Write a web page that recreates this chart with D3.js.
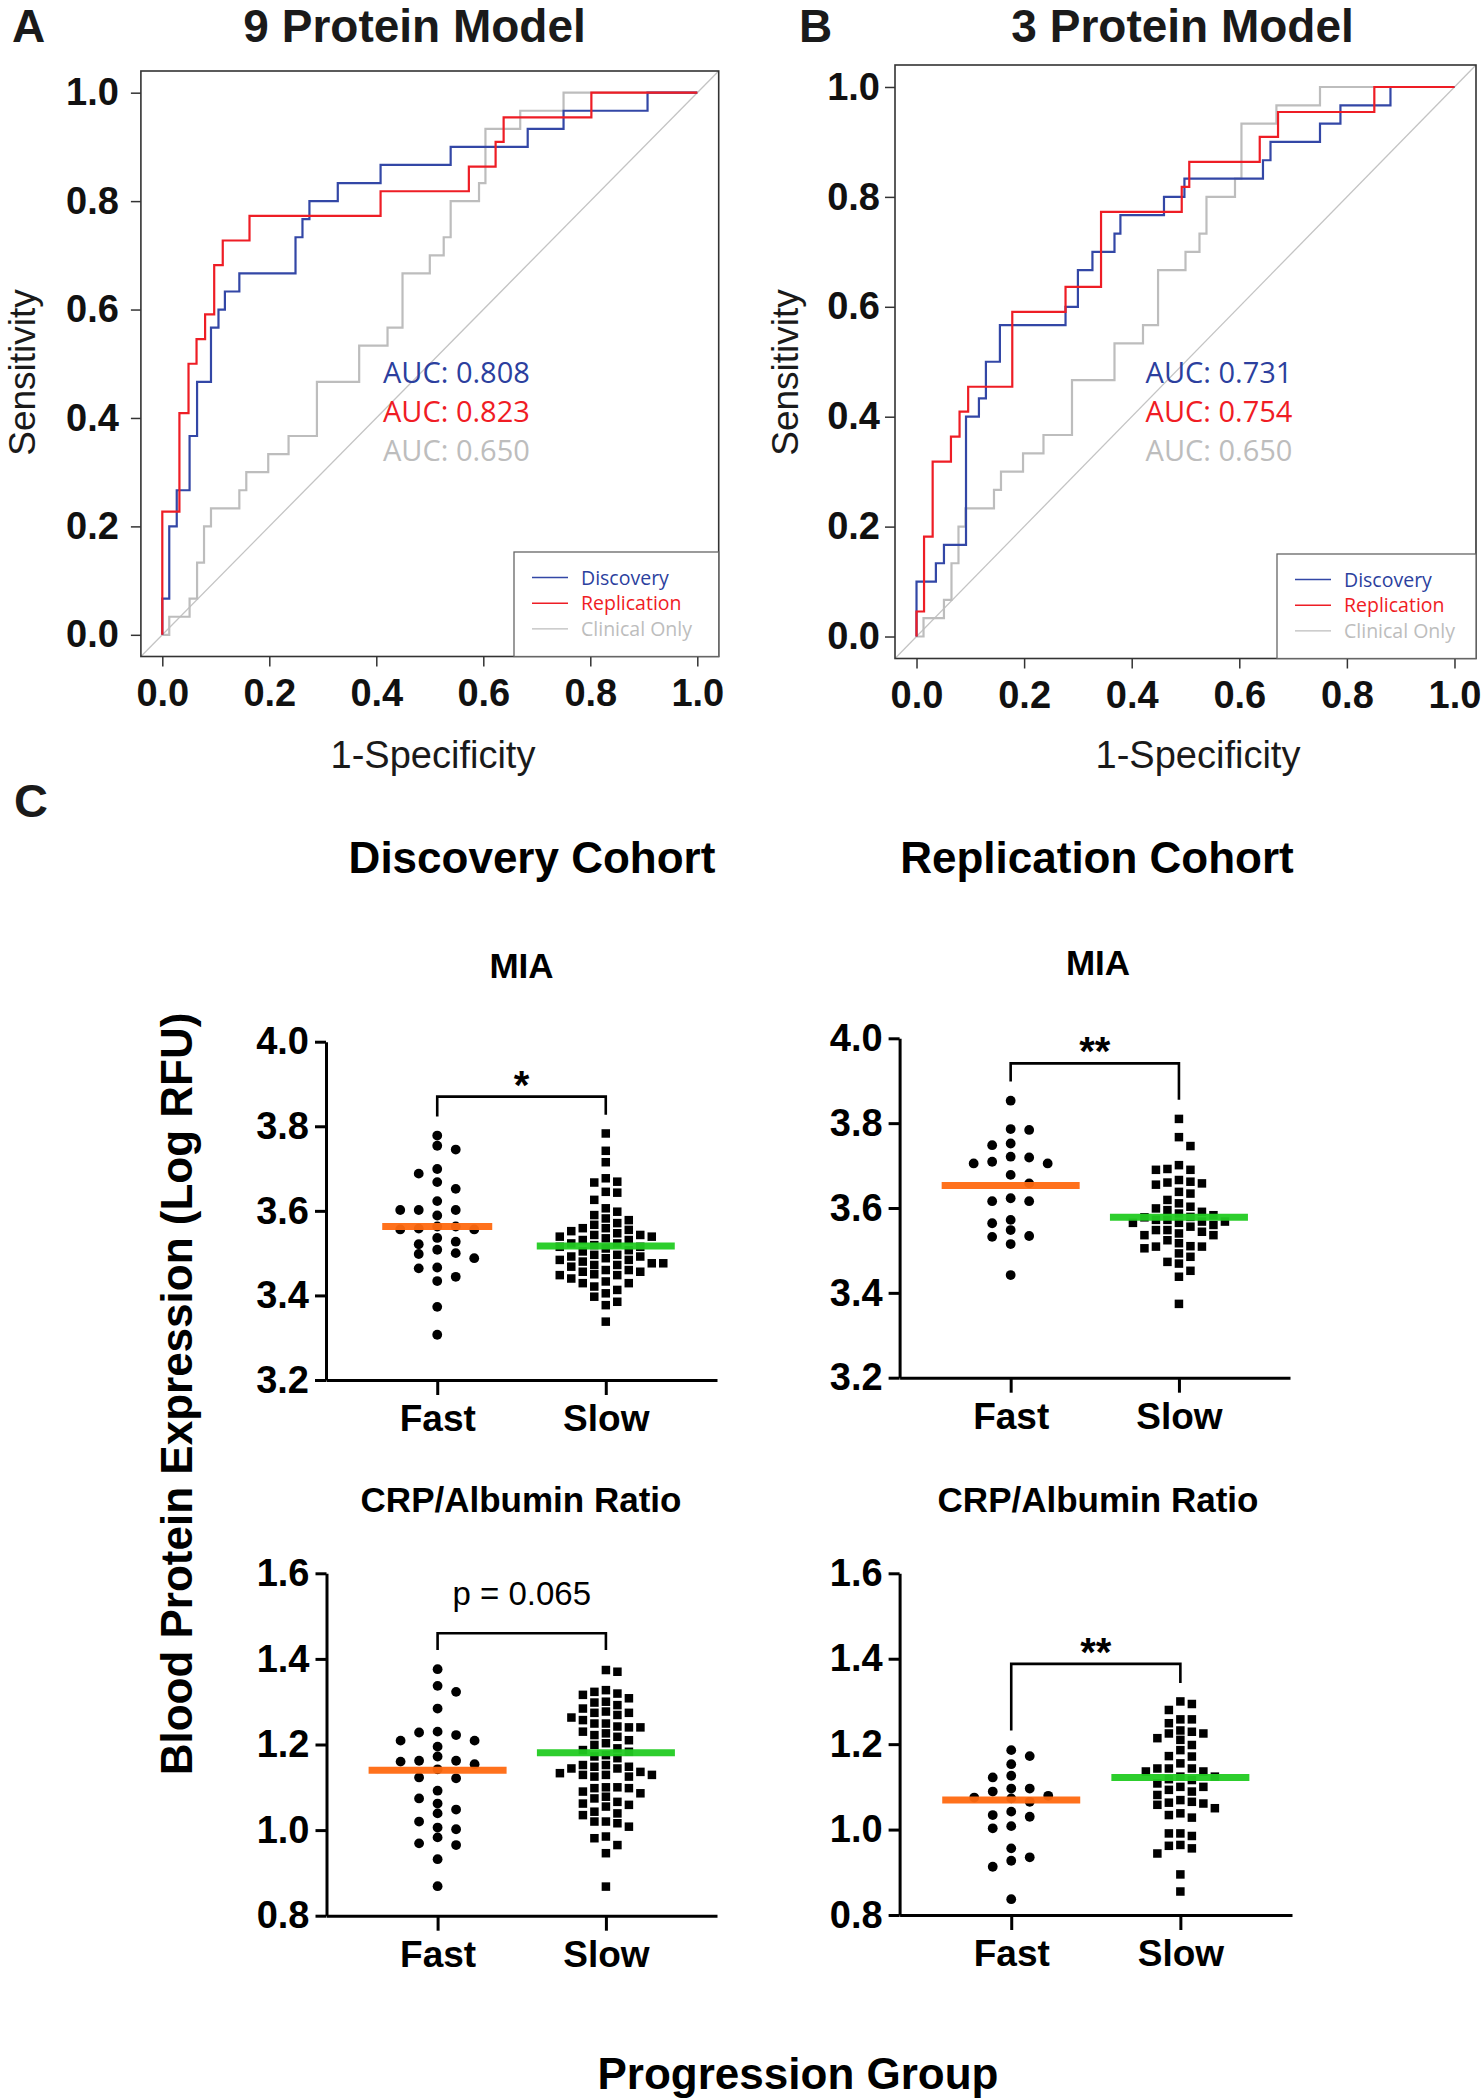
<!DOCTYPE html>
<html><head><meta charset="utf-8">
<script src="https://cdn.jsdelivr.net/npm/d3@7"></script>
<style>
body{margin:0;background:#fff;}
svg{display:block;font-family:"Liberation Sans",Arial,sans-serif;}
</style></head><body>
<svg id="chart" width="1482" height="2100"></svg>
<script>
// ---------------- DATA ----------------
const rocTicks = [0, 0.2, 0.4, 0.6, 0.8, 1.0];
const rocSeries = ["Discovery", "Replication", "Clinical Only"];
// ROC step points: [1-specificity, sensitivity after the jump]
const roc9Discovery = [[0,0],[0,0.0667],[0.013,0.2],[0.027,0.2667],[0.051,0.3667],[0.065,0.4667],[0.091,0.5667],[0.105,0.6],[0.117,0.6333],[0.144,0.6667],[0.249,0.7333],[0.262,0.7667],[0.275,0.8],[0.328,0.8333],[0.408,0.8667],[0.539,0.9],[0.683,0.9333],[0.75,0.9667],[0.907,1],[1,1]];
const roc9Replication = [[0,0],[0,0.2273],[0.032,0.4091],[0.049,0.5],[0.064,0.5455],[0.08,0.5909],[0.097,0.6818],[0.113,0.7273],[0.163,0.7727],[0.408,0.8182],[0.573,0.8636],[0.623,0.9091],[0.638,0.9545],[0.802,1],[1,1]];
const rocClinical = [[0,0],[0.013,0.0333],[0.051,0.0667],[0.065,0.1333],[0.078,0.2],[0.091,0.2333],[0.144,0.2667],[0.157,0.3],[0.198,0.3333],[0.236,0.3667],[0.289,0.4667],[0.368,0.5333],[0.421,0.5667],[0.449,0.6667],[0.5,0.7],[0.526,0.7333],[0.539,0.8],[0.592,0.8333],[0.604,0.9333],[0.669,0.9667],[0.75,1],[1,1]];
const roc3Discovery = [[0,0],[0,0.1],[0.036,0.1333],[0.051,0.1667],[0.092,0.4],[0.116,0.4333],[0.129,0.5],[0.155,0.5667],[0.277,0.6],[0.3,0.6667],[0.327,0.7],[0.368,0.7333],[0.379,0.7667],[0.46,0.8],[0.498,0.8333],[0.644,0.8667],[0.658,0.9],[0.75,0.9333],[0.788,0.9667],[0.881,1],[1,1]];
const roc3Replication = [[0,0],[0,0.0455],[0.014,0.1818],[0.03,0.3182],[0.064,0.3636],[0.08,0.4091],[0.096,0.4545],[0.178,0.5909],[0.277,0.6364],[0.343,0.7727],[0.493,0.8182],[0.507,0.8636],[0.638,0.9091],[0.672,0.9545],[0.851,1],[1,1]];
const auc9 = ["AUC: 0.808", "AUC: 0.823", "AUC: 0.650"];
const auc3 = ["AUC: 0.731", "AUC: 0.754", "AUC: 0.650"];

const groups = ["Fast", "Slow"];
const miaTicks = [3.2, 3.4, 3.6, 3.8, 4.0];
const crpTicks = [0.8, 1.0, 1.2, 1.4, 1.6];

const miaDiscFast = [3.778,3.754,3.745,3.699,3.688,3.668,3.652,3.623,3.602,3.602,3.602,3.589,3.563,3.563,3.556,3.556,3.558,3.536,3.527,3.521,3.508,3.498,3.500,3.488,3.464,3.466,3.444,3.434,3.373,3.307];
const miaDiscSlow = [3.783,3.742,3.715,3.677,3.669,3.667,3.645,3.643,3.626,3.606,3.598,3.590,3.582,3.578,3.571,3.567,3.559,3.559,3.555,3.552,3.547,3.543,3.543,3.539,3.539,3.535,3.531,3.531,3.523,3.523,3.519,3.515,3.515,3.511,3.507,3.504,3.496,3.496,3.492,3.492,3.488,3.484,3.484,3.480,3.476,3.476,3.472,3.472,3.468,3.460,3.460,3.456,3.456,3.450,3.448,3.448,3.440,3.433,3.429,3.429,3.421,3.413,3.405,3.397,3.385,3.377,3.338];
const miaRepFast = [3.853,3.786,3.784,3.752,3.748,3.721,3.719,3.709,3.705,3.705,3.678,3.658,3.623,3.616,3.616,3.572,3.564,3.548,3.534,3.532,3.515,3.442];
const miaRepSlow = [3.810,3.767,3.746,3.701,3.692,3.690,3.690,3.666,3.662,3.660,3.658,3.655,3.638,3.634,3.619,3.611,3.603,3.599,3.595,3.591,3.587,3.583,3.579,3.578,3.572,3.572,3.568,3.568,3.565,3.565,3.560,3.556,3.548,3.548,3.544,3.540,3.536,3.536,3.524,3.517,3.510,3.509,3.509,3.505,3.493,3.485,3.473,3.469,3.452,3.438,3.374];
const crpDiscFast = [1.376,1.337,1.323,1.284,1.230,1.228,1.222,1.209,1.209,1.195,1.172,1.162,1.162,1.160,1.154,1.142,1.121,1.123,1.092,1.074,1.062,1.048,1.039,1.020,1.006,1.002,0.983,0.969,0.965,0.932,0.869];
const crpDiscSlow = [1.374,1.370,1.327,1.323,1.319,1.316,1.308,1.300,1.298,1.292,1.284,1.277,1.274,1.274,1.269,1.263,1.257,1.249,1.249,1.242,1.240,1.240,1.230,1.226,1.222,1.218,1.210,1.203,1.199,1.191,1.187,1.183,1.175,1.172,1.168,1.152,1.152,1.148,1.148,1.144,1.144,1.136,1.133,1.129,1.129,1.129,1.125,1.125,1.100,1.100,1.098,1.098,1.090,1.086,1.078,1.074,1.066,1.062,1.059,1.055,1.043,1.039,1.035,1.020,1.020,1.016,1.008,0.985,0.981,0.965,0.946,0.868];
const crpRepFast = [1.186,1.172,1.153,1.126,1.122,1.096,1.096,1.089,1.079,1.073,1.075,1.065,1.042,1.034,1.030,1.008,1.003,0.956,0.935,0.927,0.913,0.837];
const crpRepSlow = [1.300,1.294,1.280,1.258,1.258,1.249,1.232,1.229,1.225,1.225,1.214,1.210,1.198,1.186,1.172,1.171,1.155,1.143,1.143,1.143,1.136,1.136,1.124,1.124,1.118,1.116,1.108,1.100,1.100,1.093,1.089,1.081,1.069,1.065,1.063,1.061,1.058,1.050,1.038,1.034,1.028,0.991,0.991,0.985,0.964,0.962,0.956,0.944,0.895,0.855];

const miaDiscMeans = [3.563, 3.517];
const miaRepMeans = [3.653, 3.578];
const crpDiscMeans = [1.140, 1.181];
const crpRepMeans = [1.069, 1.122];

// significance brackets: [bar level, fast end, slow end]
const miaDiscBracket = [3.870, 3.823, 3.827];
const miaRepBracket = [3.941, 3.898, 3.855];
const crpDiscBracket = [1.460, 1.421, 1.421];
const crpRepBracket = [1.388, 1.232, 1.343];
const sigLabels = ["*", "**", "p = 0.065", "**"];

// ---------------- STYLE ----------------
const BLUE = "#3347A6", RED = "#EE1D25", GREY = "#BDBDBD";
const BLUE_T = "#2C3F9E", RED_T = "#F01C24";
const ORANGE = "#FF6A10", GREEN = "#22CC22";
const svg = d3.select("#chart");

// ---------------- ROC ----------------
function drawROC(cfg) {
  const g = svg.append("g");
  const x = d3.scaleLinear().domain([-0.04, 1.04]).range([cfg.left, cfg.right]);
  const y = d3.scaleLinear().domain([-0.04, 1.04]).range([cfg.bottom, cfg.top]);
  g.append("line").attr("x1", x(-0.04)).attr("y1", y(-0.04)).attr("x2", x(1.04)).attr("y2", y(1.04))
    .attr("stroke", "#c4c4c4").attr("stroke-width", 1.3);
  const line = d3.line().x(d => x(d[0])).y(d => y(d[1])).curve(d3.curveStepAfter);
  const series = [[cfg.clin, GREY], [cfg.disc, BLUE], [cfg.rep, RED]];
  series.forEach(([d, c]) => {
    g.append("path").attr("d", line(d)).attr("fill", "none").attr("stroke", c).attr("stroke-width", 2.2);
  });
  g.append("rect").attr("x", cfg.left).attr("y", cfg.top).attr("width", cfg.right - cfg.left)
    .attr("height", cfg.bottom - cfg.top).attr("fill", "none").attr("stroke", "#333").attr("stroke-width", 1.6);
  const ax = g.append("g").attr("transform", `translate(0,${cfg.bottom})`)
    .call(d3.axisBottom(x).tickValues(rocTicks).tickFormat(d3.format(".1f")).tickSize(10).tickPadding(13));
  const ay = g.append("g").attr("transform", `translate(${cfg.left},0)`)
    .call(d3.axisLeft(y).tickValues(rocTicks).tickFormat(d3.format(".1f")).tickSize(10).tickPadding(cfg.yPad));
  [ax, ay].forEach(a => {
    a.select(".domain").remove();
    a.selectAll(".tick line").attr("stroke", "#333").attr("stroke-width", 1.5);
    a.selectAll("text").attr("font-family", "Liberation Sans, Arial, sans-serif").attr("font-size", 38)
      .attr("font-weight", "bold").attr("fill", "#111");
  });
  // AUC text
  const aucCol = [BLUE_T, RED_T, GREY];
  cfg.auc.forEach((t, i) => {
    g.append("text").attr("x", cfg.aucX).attr("y", cfg.aucY + i * 39).text(t)
      .attr("font-family", "Open Sans, sans-serif").attr("font-size", 29).attr("fill", aucCol[i]);
  });
  // legend
  const lx = cfg.right - cfg.legW, ly = cfg.bottom - 104.5;
  g.append("rect").attr("x", lx).attr("y", ly).attr("width", cfg.legW).attr("height", 104.5)
    .attr("fill", "#fff").attr("stroke", "#666").attr("stroke-width", 1.3);
  const legCol = [[BLUE, BLUE_T], [RED, RED_T], [GREY, GREY]];
  rocSeries.forEach((s, i) => {
    const ry = ly + 25.5 + i * 25.7;
    g.append("line").attr("x1", lx + 18).attr("x2", lx + 54).attr("y1", ry).attr("y2", ry)
      .attr("stroke", legCol[i][0]).attr("stroke-width", 1.4);
    g.append("text").attr("x", lx + 67).attr("y", ry + 7).text(s)
      .attr("font-family", "Open Sans, sans-serif").attr("font-size", 19.5).attr("fill", legCol[i][1]);
  });
  // titles
  g.append("text").attr("x", cfg.titleX).attr("y", 42).attr("text-anchor", "middle").text(cfg.title)
    .attr("font-size", 46).attr("font-weight", "bold").attr("fill", "#1a1a1a");
  g.append("text").attr("x", cfg.letterX).attr("y", 42).text(cfg.letter)
    .attr("font-size", 46).attr("font-weight", "bold").attr("fill", "#1a1a1a");
  g.append("text").attr("transform", `translate(${cfg.sensX},372.5) rotate(-90)`).attr("text-anchor", "middle")
    .text("Sensitivity").attr("font-size", 37).attr("fill", "#1a1a1a");
  g.append("text").attr("x", cfg.specX).attr("y", 768).attr("text-anchor", "middle")
    .text("1-Specificity").attr("font-size", 38).attr("fill", "#1a1a1a");
}

drawROC({left: 140.9, right: 718.7, top: 71, bottom: 656.5, yPad: 12,
  disc: roc9Discovery, rep: roc9Replication, clin: rocClinical, auc: auc9, aucX: 383, aucY: 383,
  legW: 204.7, title: "9 Protein Model", titleX: 414.6, letter: "A", letterX: 12, sensX: 35, specX: 433});
drawROC({left: 895, right: 1476, top: 65, bottom: 658.5, yPad: 5,
  disc: roc3Discovery, rep: roc3Replication, clin: rocClinical, auc: auc3, aucX: 1145.6, aucY: 382.5,
  legW: 199, title: "3 Protein Model", titleX: 1182.6, letter: "B", letterX: 799, sensX: 798, specX: 1198});

// ---------------- DOT PLOTS ----------------
function swarm(values, yScale, step, minSep) {
  const pts = values.map(v => ({v: v, py: yScale(v)})).sort((a, b) => a.py - b.py);
  const cols = new Map();
  let flip = 1;
  pts.forEach(p => {
    for (let i = 0; i < 50; i++) {
      const cands = i === 0 ? [0] : [flip * i, -flip * i];
      let done = false;
      for (const k of cands) {
        const arr = cols.get(k) || [];
        if (arr.every(q => Math.abs(q - p.py) >= minSep)) {
          arr.push(p.py); cols.set(k, arr); p.k = k; done = true; break;
        }
      }
      if (done) { if (p.k !== 0) flip = -flip; break; }
    }
    p.dx = p.k * step;
  });
  return pts;
}

function drawDot(cfg) {
  const g = svg.append("g");
  const y = d3.scaleLinear().domain([cfg.ticks[0], cfg.ticks[cfg.ticks.length - 1]]).range([cfg.bottom, cfg.top]);
  const x = d3.scalePoint().domain(groups).range([cfg.left, cfg.right]).padding(0.66);
  // axes
  const ay = g.append("g").attr("transform", `translate(${cfg.left},0)`)
    .call(d3.axisLeft(y).tickValues(cfg.ticks).tickFormat(d3.format(".1f")).tickSize(11).tickSizeOuter(0).tickPadding(6));
  const ax = g.append("g").attr("transform", `translate(0,${cfg.bottom})`)
    .call(d3.axisBottom(x).tickSize(15).tickSizeOuter(0).tickPadding(10));
  [ay, ax].forEach(a => {
    a.select(".domain").attr("stroke", "#000").attr("stroke-width", 3);
    a.selectAll(".tick line").attr("stroke", "#000").attr("stroke-width", 3);
    a.selectAll("text").attr("font-family", "Liberation Sans, Arial, sans-serif").attr("font-weight", "bold").attr("fill", "#000");
  });
  ay.selectAll("text").attr("font-size", 38);
  ax.selectAll("text").attr("font-size", 37);
  // fast: circles
  const fastPts = swarm(cfg.fast, y, 18.5, 9.5);
  g.selectAll(null).data(fastPts).enter().append("circle")
    .attr("cx", d => x("Fast") + d.dx).attr("cy", d => d.py).attr("r", 4.9).attr("fill", "#000");
  // slow: squares
  const slowPts = swarm(cfg.slow, y, 11.5, 9);
  g.selectAll(null).data(slowPts).enter().append("rect")
    .attr("x", d => x("Slow") + d.dx - 4.25).attr("y", d => d.py - 4.25).attr("width", 8.5).attr("height", 8.5).attr("fill", "#000");
  // means
  const mc = [ORANGE, GREEN];
  groups.forEach((gname, i) => {
    g.append("line").attr("x1", x(gname) - cfg.halfW[i]).attr("x2", x(gname) + cfg.halfW[i])
      .attr("y1", y(cfg.means[i])).attr("y2", y(cfg.means[i]))
      .attr("stroke", mc[i]).attr("stroke-width", 7).attr("opacity", 0.95);
  });
  // bracket
  const b = cfg.bracket;
  g.append("path").attr("d", `M${x("Fast")},${y(b[1])}V${y(b[0])}H${x("Slow")}V${y(b[2])}`)
    .attr("fill", "none").attr("stroke", "#000").attr("stroke-width", 2.6);
  const mid = (x("Fast") + x("Slow")) / 2;
  if (cfg.sig.startsWith("*")) {
    g.append("text").attr("x", mid).attr("y", y(b[0]) - 20 + 22).attr("text-anchor", "middle")
      .text(cfg.sig).attr("font-size", 40).attr("font-weight", "bold").attr("fill", "#000");
  } else {
    g.append("text").attr("x", mid).attr("y", y(b[0]) - 28).attr("text-anchor", "middle")
      .text(cfg.sig).attr("font-size", 33).attr("fill", "#000");
  }
  // panel title
  g.append("text").attr("x", cfg.titleX).attr("y", cfg.titleY).attr("text-anchor", "middle")
    .text(cfg.title).attr("font-size", 35).attr("font-weight", "bold").attr("fill", "#000");
}

drawDot({left: 326, right: 717, top: 1041.7, bottom: 1380, ticks: miaTicks, fast: miaDiscFast, slow: miaDiscSlow,
  means: miaDiscMeans, halfW: [55, 69], bracket: miaDiscBracket, sig: sigLabels[0], title: "MIA", titleX: 521.5, titleY: 978});
drawDot({left: 899.6, right: 1290, top: 1038.3, bottom: 1377.7, ticks: miaTicks, fast: miaRepFast, slow: miaRepSlow,
  means: miaRepMeans, halfW: [69, 69], bracket: miaRepBracket, sig: sigLabels[1], title: "MIA", titleX: 1098, titleY: 975});
drawDot({left: 326.5, right: 717, top: 1573.3, bottom: 1915.7, ticks: crpTicks, fast: crpDiscFast, slow: crpDiscSlow,
  means: crpDiscMeans, halfW: [69, 69], bracket: crpDiscBracket, sig: sigLabels[2], title: "CRP/Albumin Ratio", titleX: 521, titleY: 1511.7});
drawDot({left: 899.6, right: 1292, top: 1573.3, bottom: 1915, ticks: crpTicks, fast: crpRepFast, slow: crpRepSlow,
  means: crpRepMeans, halfW: [69, 69], bracket: crpRepBracket, sig: sigLabels[3], title: "CRP/Albumin Ratio", titleX: 1098, titleY: 1511.7});

// section C labels
svg.append("text").attr("x", 14).attr("y", 817).text("C").attr("font-size", 47).attr("font-weight", "bold").attr("fill", "#1a1a1a");
svg.append("text").attr("x", 532).attr("y", 873).attr("text-anchor", "middle").text("Discovery Cohort")
  .attr("font-size", 44).attr("font-weight", "bold").attr("fill", "#000");
svg.append("text").attr("x", 1097).attr("y", 873).attr("text-anchor", "middle").text("Replication Cohort")
  .attr("font-size", 44).attr("font-weight", "bold").attr("fill", "#000");
svg.append("text").attr("transform", "translate(192,1394) rotate(-90)").attr("text-anchor", "middle")
  .text("Blood Protein Expression (Log RFU)").attr("font-size", 44).attr("font-weight", "bold").attr("fill", "#000");
svg.append("text").attr("x", 798).attr("y", 2089).attr("text-anchor", "middle").text("Progression Group")
  .attr("font-size", 44).attr("font-weight", "bold").attr("fill", "#000");
</script>
</body></html>
